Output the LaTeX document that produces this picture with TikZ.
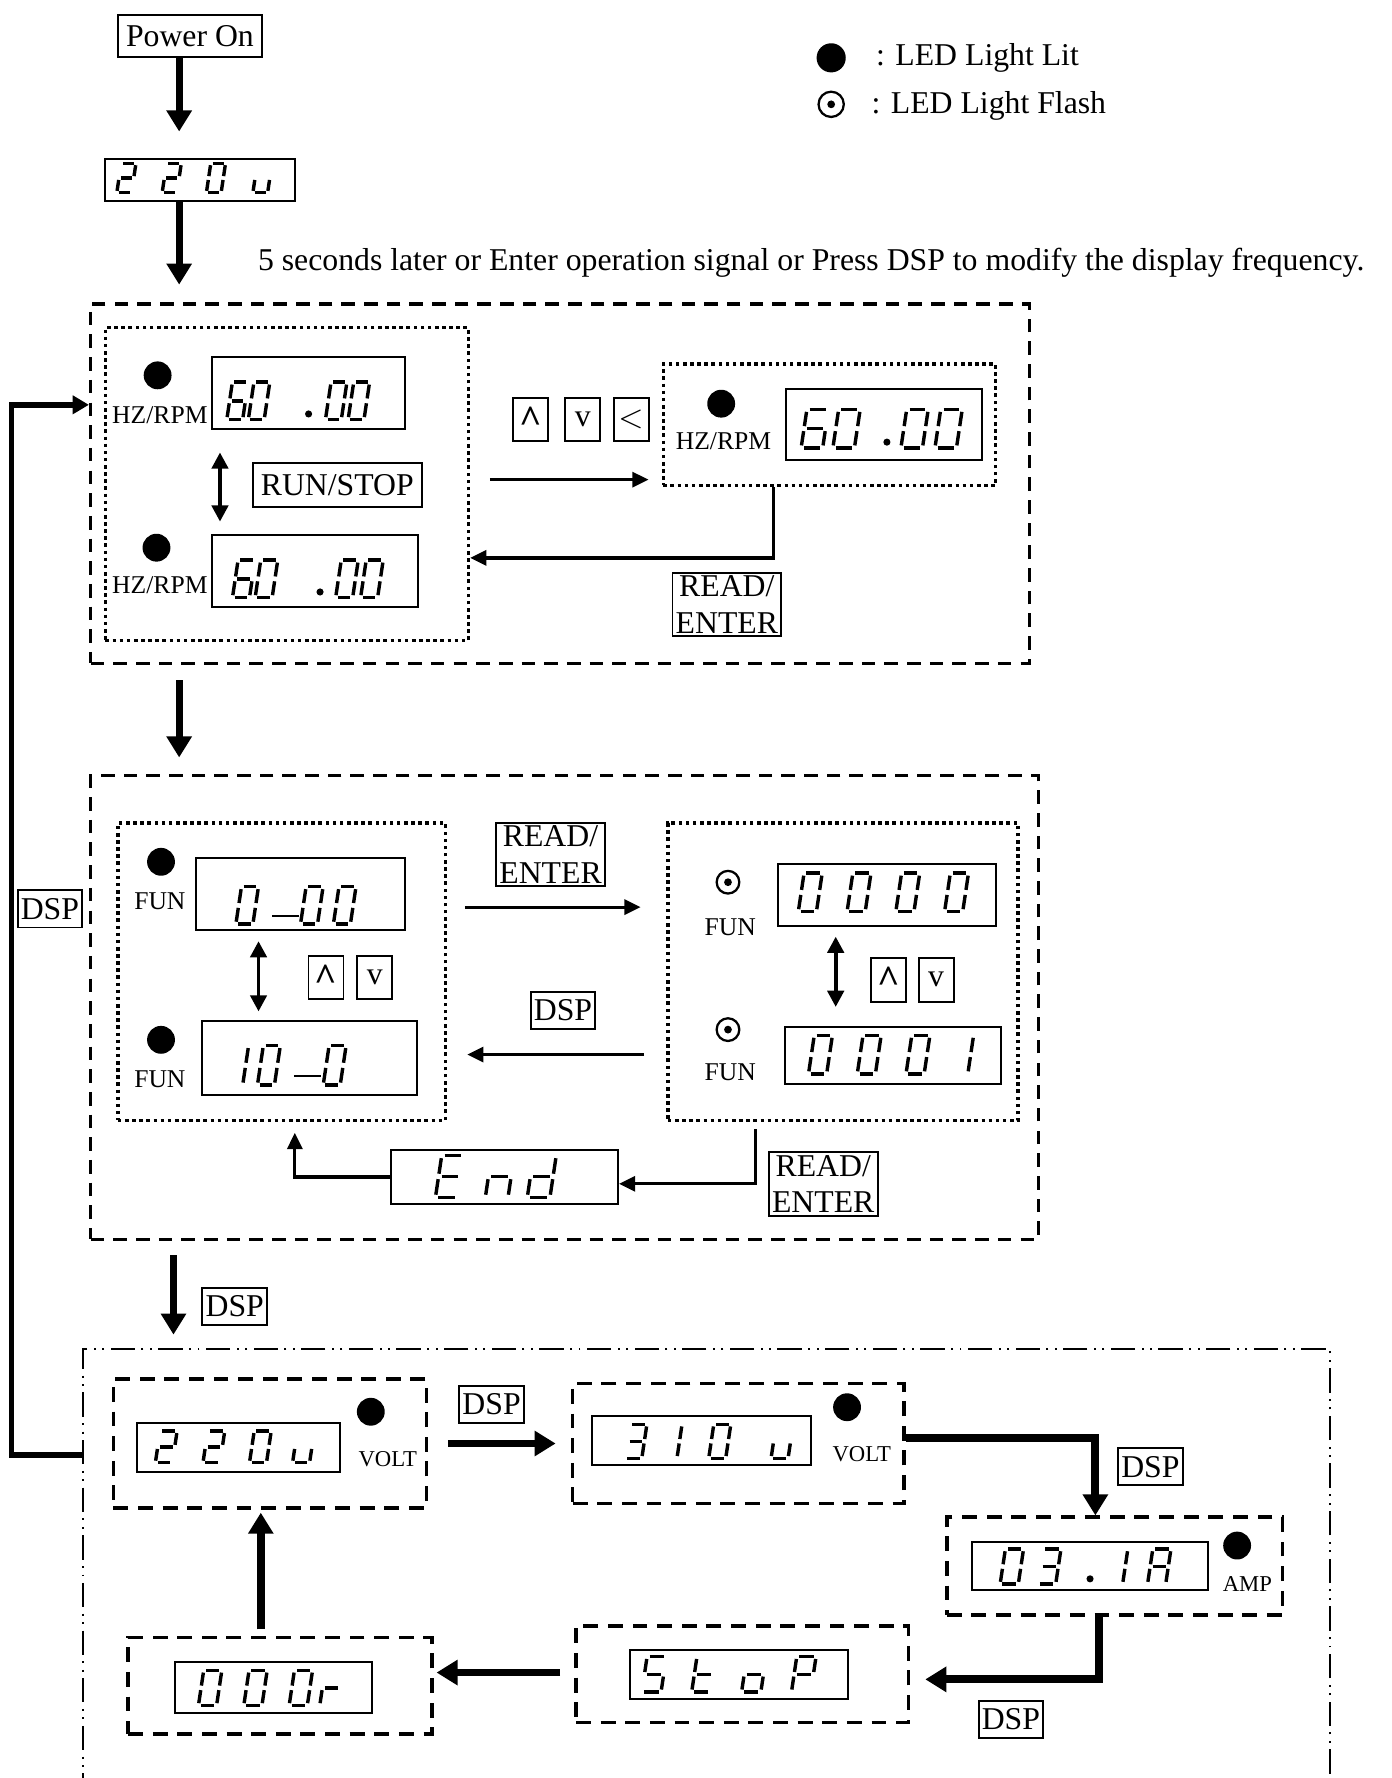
\documentclass[tikz,border=0pt]{standalone}
\usepackage{amsmath}
\usepackage{fontspec}
\setmainfont{Liberation Serif}
\usetikzlibrary{arrows.meta,positioning,fit,calc}

\newcommand{\bigtxt}{\fontsize{9.8}{11.2}\selectfont}
\newcommand{\midtxt}{\fontsize{7.9}{9}\selectfont}
\newcommand{\smtxt}{\fontsize{7}{8}\selectfont}
\newcommand{\upkey}{\raisebox{-3.2pt}{\bfseries\fontsize{12}{12}\selectfont\textasciicircum}}

\tikzset{
  segline/.style={line width=1.05pt},
  dp/.style={circle, fill, inner sep=0pt, minimum size=2.2pt},
}
% seven-segment parts, unit cell 1 wide, 2 high
\newcommand{\defseg}[2]{\expandafter\def\csname lcdseg#1\endcsname{#2}}
\newcommand{\defchar}[2]{\expandafter\def\csname lcdchar#1\endcsname{#2}}
\newcommand{\segs}[1]{\foreach \s in {#1}{\csname lcdseg\s\endcsname}}
\defseg{a}{\draw[segline] (0.13,2)--(0.87,2);}
\defseg{b}{\draw[segline] (1,1.87)--(1,1.13);}
\defseg{c}{\draw[segline] (1,0.87)--(1,0.13);}
\defseg{d}{\draw[segline] (0.13,0)--(0.87,0);}
\defseg{e}{\draw[segline] (0,0.13)--(0,0.87);}
\defseg{f}{\draw[segline] (0,1.13)--(0,1.87);}
\defseg{g}{\draw[segline] (0.13,1)--(0.87,1);}
\defseg{p}{\node[dp] at (0.1,0.3) {};}
\defseg{m}{\draw[segline, line width=0.55pt] (0,0.45)--(1.6,0.45);}
\defchar{0}{\segs{a,b,c,d,e,f}}
\defchar{1}{\segs{b,c}}
\defchar{2}{\segs{a,b,g,e,d}}
\defchar{3}{\segs{a,b,g,c,d}}
\defchar{6}{\segs{a,f,g,e,d,c}}
\defchar{A}{\segs{a,b,c,e,f,g}}
\defchar{E}{\segs{a,f,g,e,d}}
\defchar{S}{\segs{a,f,g,c,d}}
\defchar{P}{\segs{a,b,e,f,g}}
\defchar{n}{\segs{e,g,c}}
\defchar{d}{\segs{b,c,d,e,g}}
\defchar{t}{\segs{f,e,d,g}}
\defchar{o}{\segs{c,d,e,g}}
\defchar{u}{\segs{c,d,e}}
\defchar{r}{\segs{e,g}}
\defchar{p}{\segs{p}}
\defchar{m}{\segs{m}}
% #1 display node, #2 baseline below centre, #3 digit height, #4 digit width, #5 offset/char
\newcommand{\lcd}[5]{%
  \foreach \dx/\cc in {#5}{%
    \begin{scope}[shift={($(#1)+(\dx,#2)$)}, xslant=0.15, x=0.35pt, y=0.175pt, xscale=#4, yscale=#3]
      \csname lcdchar\cc\endcsname
    \end{scope}}}

\begin{document}
\begin{tikzpicture}[x=0.35pt, y=-0.35pt,
  lcdbox/.style={draw, line width=0.6pt, inner sep=0pt},
  key/.style={draw, line width=0.6pt, inner xsep=1pt, inner ysep=1pt, minimum height=11.5pt, font=\bigtxt},
  btn/.style={draw, line width=0.6pt, inner sep=0pt, minimum width=10.8pt, minimum height=13.5pt, font=\bigtxt},
  txt/.style={inner sep=0pt, font=\bigtxt},
  tag/.style={inner sep=0pt, font=\midtxt},
  sub/.style={inner sep=0pt, font=\smtxt},
  led/.style={circle, fill, inner sep=0pt, minimum size=8.6pt},
  blink/.style={circle, draw, line width=0.7pt, inner sep=0pt, minimum size=7pt,
    path picture={\fill (path picture bounding box.center) circle[radius=1.2pt];}},
  panel/.style={draw, line width=1.1pt, dash pattern=on 4.2pt off 2.8pt, inner sep=0pt},
  pane/.style={draw, line width=1.1pt, dash pattern=on 1.1pt off 1.1pt, inner sep=0pt},
  stage/.style={draw, line width=1.1pt, dash pattern=on 4.6pt off 3pt, inner sep=0pt},
  zone/.style={draw, line width=0.6pt, dash pattern=on 7.5pt off 2pt on 0.6pt off 2pt on 0.6pt off 2pt, inner sep=0pt},
  bigarr/.style={line width=2.1pt, -{Triangle[width=7.5pt,length=6.5pt]}},
  arr/.style={line width=1pt, -{Triangle[width=4.6pt,length=5pt]}},
  twoway/.style={line width=1.2pt, {Triangle[width=5pt,length=5pt]}-{Triangle[width=5pt,length=5pt]}},
  link/.style={line width=2.4pt, -{Triangle[width=7.5pt,length=6.5pt]}},
  back/.style={line width=1.7pt, -{Triangle[width=5.5pt,length=5pt]}},
]
\useasboundingbox (0,0) rectangle (1227,1568);

% start up
\node[key, inner xsep=2.4pt, minimum height=13pt] (pwr) at (167.5,31.5) {Power On};
\node[lcdbox, fit={(93,140) (260,177)}] (d0) {};
\lcd{d0}{11.5}{26}{13}{-73.5/2,-33.5/2,5.5/0,46.5/u}
\coordinate (t0) at (158,116);
\coordinate (t1) at (158,251);
\draw[bigarr] (pwr.south -| t0) -- (t0);
\draw[bigarr] (d0.south -| t1) -- (t1);
\node[txt, anchor=west] (note) at (227,232) {5 seconds later or Enter operation signal or Press DSP to modify the display frequency.};

% legend
\node[led, minimum size=9pt] (lit) at (733,51) {};
\node[txt, anchor=west] (littxt) at (772,51) {: LED Light Lit};
\node[blink, minimum size=7.8pt] (fl) at (733,92) {};
\node[txt, anchor=west] (fltxt) at (768,93) {: LED Light Flash};

% frequency display
\node[panel, fit={(80,268) (908,585)}] (b1) {};
\node[pane, fit={(93,289) (413,565)}] (p1) {};
\node[led] (l1) at (139,331) {};
\node[tag] (h1) at (141,366) {HZ/RPM};
\node[lcdbox, fit={(187,315) (357,378)}] (d1) {};
\lcd{d1}{23.5}{33}{14}{-72/6,-53/0,-2/p,15/0,35/0}
\node[led] (l2) at (138,483) {};
\node[tag] (h2) at (141,516) {HZ/RPM};
\node[lcdbox, fit={(187,472) (369,535)}] (d2) {};
\lcd{d2}{23.5}{33}{15}{-73/6,-53/0,2/p,18/0,40/0}
\coordinate (s1) at (194,399);
\coordinate (s2) at (194,460);
\draw[twoway] (s1) -- (s2);
\node[key, inner xsep=2.5pt, minimum height=13.5pt] (rs) at (297.5,427.5) {RUN/STOP};
\node[btn] (k1) at (468,370) {\upkey};
\node[btn] (k2) at (514,370) {v};
\node[btn] (k3) at (556.5,370) {$<$};
\node[pane, fit={(585,321) (878,428)}] (p2) {};
\node[led] (l3) at (636,356) {};
\node[tag] (h3) at (638,389) {HZ/RPM};
\node[lcdbox, fit={(693,343) (866,406)}] (d3) {};
\lcd{d3}{20.5}{34}{19}{-73/6,-45/0,0/p,15/0,45/0}
\coordinate (s3) at (432,423);
\coordinate (s4) at (572,423);
\draw[arr] (s3) -- (s4);
\coordinate (e1) at (682,492);
\draw[arr] (p2.south -| e1) -- (e1) -- (p1.east |- e1);
\node[key, align=center] (re1) at (641,533) {READ/\\ENTER};

\coordinate (t2) at (158,600);
\coordinate (t3) at (158,668);
\draw[bigarr] (t2) -- (t3);

% function setting
\node[panel, fit={(80,684) (916,1093)}] (b2) {};
\node[pane, fit={(104,726) (393,988)}] (p3) {};
\node[led] (l4) at (142,760) {};
\node[tag] (f1) at (141,795) {FUN};
\node[lcdbox, fit={(173,757) (357,820)}] (d4) {};
\lcd{d4}{26.5}{33}{15}{-57/0,-26/m,0/0,29/0}
\node[led] (l5) at (142,917) {};
\node[tag] (f2) at (141,952) {FUN};
\node[lcdbox, fit={(178,900) (368,966)}] (d5) {};
\lcd{d5}{24}{35}{15}{-74/1,-46/0,-15/m,12/0}
\coordinate (s5) at (228,830);
\coordinate (s6) at (228,892);
\draw[twoway] (s5) -- (s6);
\node[btn] (k4) at (287.5,862) {\upkey};
\node[btn] (k5) at (330.5,862) {v};
\node[key, align=center] (re2) at (485.5,753.5) {READ/\\ENTER};
\coordinate (s7) at (410,800);
\coordinate (s8) at (565,800);
\draw[arr] (s7) -- (s8);
\node[key] (ds1) at (496.5,891) {DSP};
\coordinate (s9) at (568,930);
\coordinate (s10) at (412,930);
\draw[arr] (s9) -- (s10);
\node[pane, fit={(589,726) (898,988)}] (p4) {};
\node[blink] (l6) at (642,778) {};
\node[tag] (f3) at (644,818) {FUN};
\node[lcdbox, fit={(686,762) (878,817)}] (d6) {};
\lcd{d6}{14.5}{34}{16}{-78/0,-35/0,8/0,51/0}
\coordinate (s11) at (737,826);
\coordinate (s12) at (737,888);
\draw[twoway] (s11) -- (s12);
\node[btn] (k6) at (783.5,864) {\upkey};
\node[btn] (k7) at (825.5,864) {v};
\node[blink] (l7) at (642,908) {};
\node[tag] (f4) at (644,946) {FUN};
\node[lcdbox, fit={(692,906) (883,956)}] (d7) {};
\lcd{d7}{16}{34}{16}{-74.5/0,-31.5/0,11.5/0,50/1}
\node[lcdbox, fit={(345,1014) (545,1062)}] (end) {};
\lcd{end}{18}{37}{20}{-61/E,-17/n,20/d}
\coordinate (e2a) at (666,996);
\coordinate (e2) at (666,1044);
\draw[arr] (e2a) -- (e2) -- (end.east |- e2);
\node[key, align=center] (re3) at (726,1044) {READ/\\ENTER};
\coordinate (e3) at (260,1038);
\coordinate (e3b) at (260,999);
\draw[arr] (end.west |- e3) -- (e3) -- (e3b);

\coordinate (t4) at (153,1107);
\coordinate (t5) at (153,1177);
\draw[bigarr] (t4) -- (t5);
\node[key] (ds6) at (207,1152) {DSP};

% monitor cycle
\node[zone, fit={(73,1190) (1173,1640)}] (b3) {};
\node[stage, fit={(100,1216) (376,1330)}] (sa) {};
\node[lcdbox, fit={(121,1255) (300,1298)}] (da) {};
\lcd{da}{13.5}{28}{15}{-73.5/2,-31.5/2,9.5/0,47.5/u}
\node[led] (la) at (327,1245) {};
\node[sub] (va) at (342,1287) {VOLT};
\node[key] (ds3) at (433.5,1238.5) {DSP};
\coordinate (q1) at (395,1273);
\coordinate (q2) at (490,1273);
\draw[link] (q1) -- (q2);
\node[stage, fit={(505,1220) (797,1326)}] (sb) {};
\node[lcdbox, fit={(522,1249) (715,1292)}] (db) {};
\lcd{db}{15.5}{30}{15}{-67.5/3,-36.5/1,6.5/0,61.5/u}
\node[led] (lb) at (747,1241) {};
\node[sub] (vb) at (760,1282) {VOLT};
\node[stage, fit={(835,1338) (1131,1424)}] (sc) {};
\coordinate (q3) at (966,1268);
\draw[link] (sb.east |- q3) -- (q3) -- (q3 |- sc.north);
\node[key] (ds4) at (1014.5,1293.5) {DSP};
\node[lcdbox, fit={(857,1360) (1065,1402)}] (dc) {};
\lcd{dc}{16}{31}{16}{-79/0,-46/3,-2/p,13/1,51/A}
\node[led] (lc) at (1091,1363) {};
\node[sub] (ac) at (1100,1397) {AMP};
\node[stage, fit={(508,1434) (801,1519)}] (sd) {};
\node[lcdbox, fit={(556,1455) (748,1498)}] (dd) {};
\lcd{dd}{15.5}{31}{17}{-86/S,-42/t,2/o,46/P}
\coordinate (q4) at (969,1481);
\coordinate (q5) at (816,1481);
\draw[link] (sc.south -| q4) -- (q4) -- (q5);
\node[key] (ds5) at (891.5,1516.5) {DSP};
\node[stage, fit={(113,1444) (381,1529)}] (se) {};
\node[lcdbox, fit={(154,1466) (328,1511)}] (de) {};
\lcd{de}{15.5}{31}{16}{-66/0,-26/0,14/0,41/r}
\coordinate (q6) at (494,1475);
\coordinate (q7) at (385,1475);
\draw[link] (q6) -- (q7);
\coordinate (q8) at (230,1437);
\coordinate (q9) at (230,1334);
\draw[link] (q8) -- (q9);

% back to frequency display
\coordinate (w1) at (10,1283);
\coordinate (w2) at (10,357);
\draw[back] (b3.west |- w1) -- (w1) -- (w2) -- (b1.west |- w2);
\node[key] (ds2) at (44,801.5) {DSP};
\end{tikzpicture}
\end{document}
